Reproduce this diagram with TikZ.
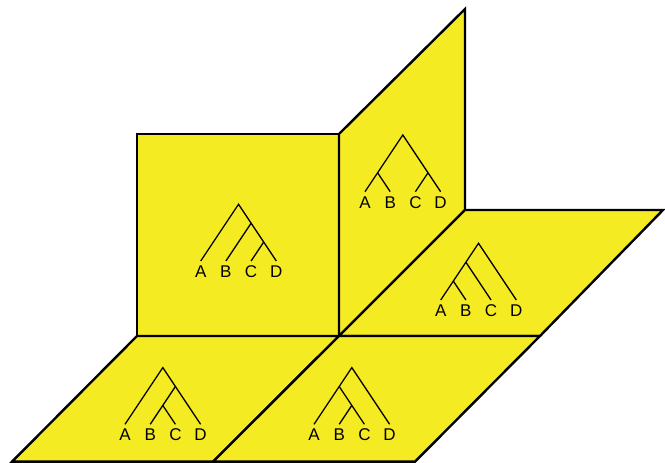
\documentclass[tikz,border=0pt]{standalone}
\usepackage{fontspec}
\setmainfont{Liberation Sans}
\definecolor{panelyellow}{RGB}{245,235,35}
\tikzset{
  panel/.style={draw=black,line width=2.4pt,fill=panelyellow,line join=miter},
  branch/.style={draw=black,line width=1.3pt},
  taxon/.style={anchor=base,inner sep=0pt,font=\fontsize{17}{20}\selectfont},
  treeunit/.style={x=25.2pt,y=25.2pt}
}

\begin{document}
\begin{tikzpicture}[x=1pt,y=1pt]
  \useasboundingbox (0,0) rectangle (665,463);
  % panels
  \draw[panel] (137,127) rectangle (339,329);
  \draw[panel] (339,127) -- (339,329) -- (465,454) -- (465,253) -- cycle;
  \draw[panel] (339,127) -- (465,253) -- (663,253) -- (540,127) -- cycle;
  \draw[panel] (137,127) -- (339,127) -- (213,1.3) -- (12,1.3) -- cycle;
  \draw[panel] (339,127) -- (540,127) -- (415,1.3) -- (213,1.3) -- cycle;
  % square: (A,(B,(C,D)))
  \begin{scope}[shift={(200.7,202)},treeunit]
    \foreach \t [count=\i from 0] in {A,B,C,D} {
      \coordinate (sq\t) at (\i,0);
      \node[taxon] (sqlab\t) at (\i,-0.66) {\t};
    }
    \coordinate (sqroot) at (1.5,2.25);
    \coordinate (sqbcd) at (2,1.5);
    \coordinate (sqcd) at (2.5,0.75);
    \draw[branch] (sqA) -- (sqroot) -- (sqD);
    \draw[branch] (sqB) -- (sqbcd);
    \draw[branch] (sqC) -- (sqcd);
  \end{scope}
  % wall: ((A,B),(C,D))
  \begin{scope}[shift={(365,271.3)},treeunit]
    \foreach \t [count=\i from 0] in {A,B,C,D} {
      \coordinate (wl\t) at (\i,0);
      \node[taxon] (wllab\t) at (\i,-0.66) {\t};
    }
    \coordinate (wlroot) at (1.5,2.25);
    \coordinate (wlab) at (0.5,0.75);
    \coordinate (wlcd) at (2.5,0.75);
    \draw[branch] (wlA) -- (wlroot) -- (wlD);
    \draw[branch] (wlB) -- (wlab);
    \draw[branch] (wlC) -- (wlcd);
  \end{scope}
  % right floor: (((A,B),C),D)
  \begin{scope}[shift={(440.7,163)},treeunit]
    \foreach \t [count=\i from 0] in {A,B,C,D} {
      \coordinate (fr\t) at (\i,0);
      \node[taxon] (frlab\t) at (\i,-0.66) {\t};
    }
    \coordinate (frroot) at (1.5,2.25);
    \coordinate (frabc) at (1,1.5);
    \coordinate (frab) at (0.5,0.75);
    \draw[branch] (frA) -- (frroot) -- (frD);
    \draw[branch] (frC) -- (frabc);
    \draw[branch] (frB) -- (frab);
  \end{scope}
  % left floor: (A,((B,C),D))
  \begin{scope}[shift={(125,38.7)},treeunit]
    \foreach \t [count=\i from 0] in {A,B,C,D} {
      \coordinate (fl\t) at (\i,0);
      \node[taxon] (fllab\t) at (\i,-0.66) {\t};
    }
    \coordinate (flroot) at (1.5,2.25);
    \coordinate (flbcd) at (2,1.5);
    \coordinate (flbc) at (1.5,0.75);
    \draw[branch] (flA) -- (flroot) -- (flD);
    \draw[branch] (flB) -- (flbcd);
    \draw[branch] (flC) -- (flbc);
  \end{scope}
  % middle floor: ((A,(B,C)),D)
  \begin{scope}[shift={(314,38.7)},treeunit]
    \foreach \t [count=\i from 0] in {A,B,C,D} {
      \coordinate (fm\t) at (\i,0);
      \node[taxon] (fmlab\t) at (\i,-0.66) {\t};
    }
    \coordinate (fmroot) at (1.5,2.25);
    \coordinate (fmabc) at (1,1.5);
    \coordinate (fmbc) at (1.5,0.75);
    \draw[branch] (fmA) -- (fmroot) -- (fmD);
    \draw[branch] (fmC) -- (fmabc);
    \draw[branch] (fmB) -- (fmbc);
  \end{scope}
\end{tikzpicture}
\end{document}
